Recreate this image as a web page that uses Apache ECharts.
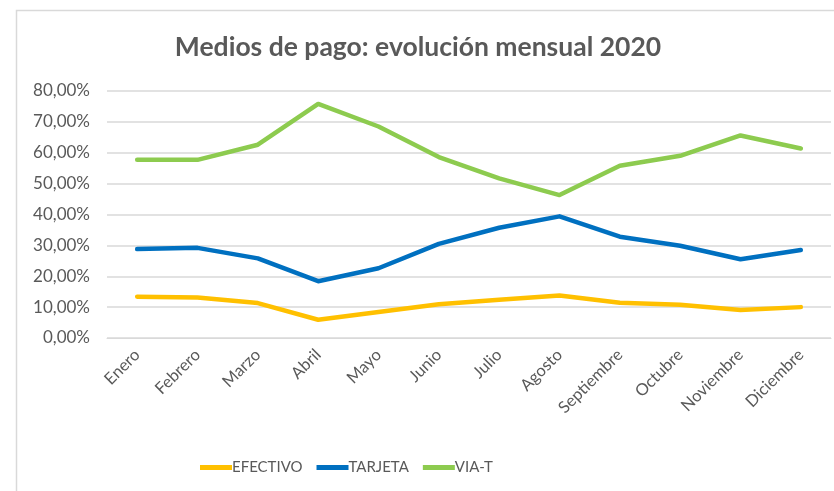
<!DOCTYPE html>
<html lang="es">
<head>
    <meta charset="UTF-8">
    <title>Medios de pago</title>
    <script src="https://cdn.jsdelivr.net/npm/echarts@6/dist/echarts.min.js"></script>
    <style>
        html, body { margin: 0; padding: 0; background: #fff; }
        #main { width: 834px; height: 491px; }
    </style>
</head>
<body>
<div id="main"></div>
<script>
    // datos
    var meses = ['Enero', 'Febrero', 'Marzo', 'Abril', 'Mayo', 'Junio', 'Julio', 'Agosto', 'Septiembre', 'Octubre', 'Noviembre', 'Diciembre'];
    var efectivo = [13.4, 13.1, 11.3, 5.9, 8.4, 10.9, 12.4, 13.8, 11.4, 10.8, 9.1, 10.0];
    var tarjeta = [28.8, 29.2, 25.8, 18.4, 22.6, 30.5, 35.7, 39.4, 32.8, 29.9, 25.5, 28.5];
    var viaT = [57.7, 57.7, 62.6, 75.8, 68.5, 58.6, 51.7, 46.3, 55.8, 59.0, 65.6, 61.4];
    var ticksY = [0, 10, 20, 30, 40, 50, 60, 70, 80];

    var gris = '#595959';
    var myChart = echarts.init(document.getElementById('main'));

    function serie(nombre, datos, color) {
        return {
            name: nombre,
            type: 'line',
            data: datos,
            symbol: 'none',
            smooth: false,
            lineStyle: { width: 4.5, color: color, cap: 'round', join: 'round' },
            itemStyle: { color: color }
        };
    }

    var option = {
        animation: false,
        backgroundColor: '#fff',
        title: {
            text: 'Medios de pago: evolución mensual 2020',
            left: 413,
            textAlign: 'center',
            top: 29,
            textStyle: { fontFamily: 'Lato', fontSize: 26.5, fontWeight: 'bold', color: gris }
        },
        graphic: [{
            type: 'rect',
            shape: { x: 16.5, y: 10.5, width: 830, height: 500 },
            style: { fill: 'none', stroke: '#d9d9d9', lineWidth: 1.5 },
            silent: true
        }],
        legend: {
            left: 195,
            top: 455,
            itemWidth: 32,
            itemHeight: 5,
            itemGap: 14,
            icon: 'rect',
            data: ['EFECTIVO', 'TARJETA', 'VIA-T'],
            textStyle: { fontFamily: 'Lato', fontSize: 15, color: gris, padding: [0, 0, 0, -5] }
        },
        grid: { left: 107, right: 3, top: 91, bottom: 153, containLabel: false },
        xAxis: {
            type: 'category',
            data: meses,
            boundaryGap: true,
            axisLine: { show: true, lineStyle: { color: '#d9d9d9', width: 1 } },
            axisTick: { show: false },
            axisLabel: {
                rotate: 45,
                margin: 14,
                interval: 0,
                fontFamily: 'Lato',
                fontSize: 16.5,
                color: gris
            }
        },
        yAxis: {
            type: 'value',
            min: ticksY[0],
            max: ticksY[ticksY.length - 1],
            interval: 10,
            axisLine: { show: false },
            axisTick: { show: false },
            splitLine: { lineStyle: { color: '#d9d9d9', width: 1.5 } },
            axisLabel: {
                margin: 17,
                fontFamily: 'Lato',
                fontSize: 17,
                color: gris,
                formatter: function (v) { return v.toFixed(2).replace('.', ',') + '%'; }
            }
        },
        series: [
            serie('EFECTIVO', efectivo, '#FFC000'),
            serie('TARJETA', tarjeta, '#0070C0'),
            serie('VIA-T', viaT, '#8DCB4F')
        ]
    };

    myChart.setOption(option);
</script>
</body>
</html>
